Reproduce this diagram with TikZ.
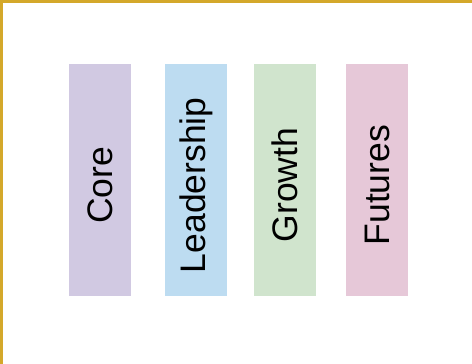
\documentclass[tikz,border=0pt]{standalone}
\usepackage{fontspec}
\setmainfont{Liberation Sans}
\definecolor{gold}{HTML}{D4A82A}
\definecolor{cpurple}{HTML}{D1C9E2}
\definecolor{cblue}{HTML}{BDDCF1}
\definecolor{cgreen}{HTML}{D0E4CD}
\definecolor{cpink}{HTML}{E6C8D8}
\begin{document}
\begin{tikzpicture}[x=1pt,y=-1pt,
  bar/.style={draw=none, minimum width=62pt, minimum height=232pt, inner sep=0pt, anchor=north west},
  lbl/.style={rotate=90, font=\fontsize{35.5}{40}\selectfont, inner sep=0pt}]
\useasboundingbox (0,0) rectangle (472,364);
\fill[white] (0,0) rectangle (472,364);
\fill[gold] (0,0) rectangle (472,3);
\fill[gold] (0,0) rectangle (3,364);
\node[bar, fill=cpurple] (core) at (69,64) {};
\node[bar, fill=cblue] (lead) at (165,64) {};
\node[bar, fill=cgreen] (grow) at (254,64) {};
\node[bar, fill=cpink] (fut) at (346,64) {};
\node[lbl] (tcore) at ([yshift=-5pt]core.center) {Core};
\node[lbl] (tlead) at ([yshift=-5pt]lead.center) {Leadership};
\node[lbl] (tgrow) at ([yshift=-5pt]grow.center) {Growth};
\node[lbl] (tfut) at ([yshift=-5pt]fut.center) {Futures};
\end{tikzpicture}
\end{document}
